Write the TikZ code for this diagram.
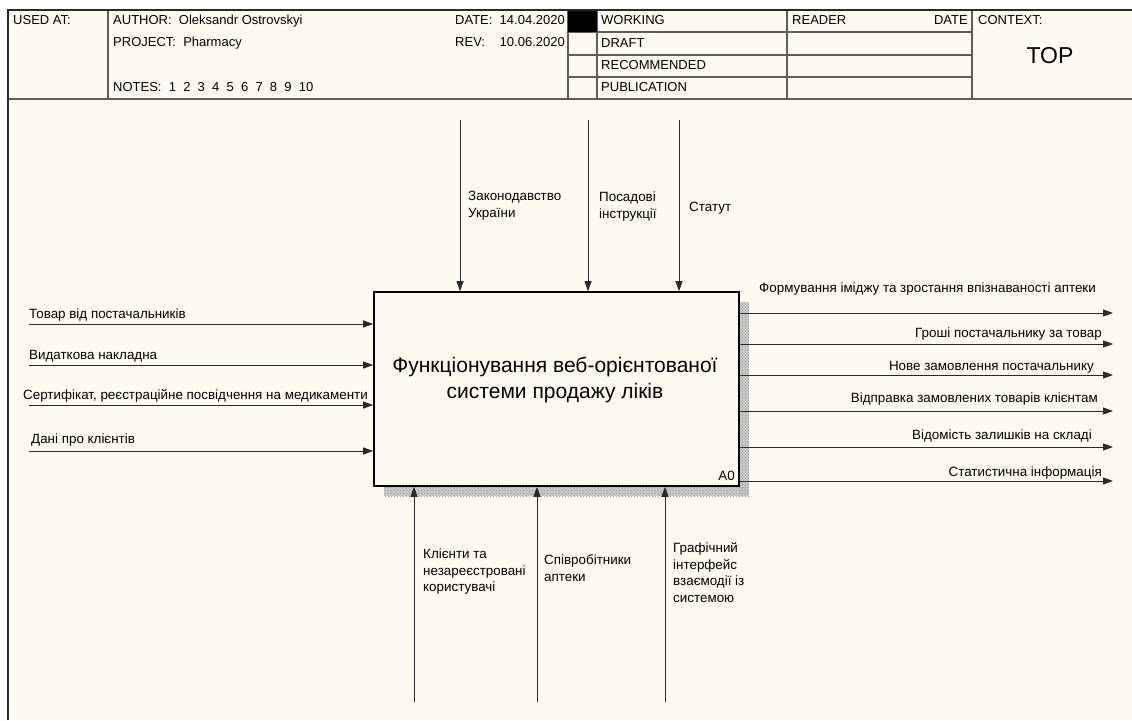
\documentclass[tikz,border=0pt]{standalone}
\usepackage{fontspec}
\setmainfont{Liberation Sans}
\usetikzlibrary{arrows.meta,patterns}
\definecolor{paper}{HTML}{FFFAF0}
\definecolor{ink}{HTML}{2A2A2A}
\definecolor{rulegray}{HTML}{5E5E5E}
\tikzset{
  lbl/.style={font=\fontsize{13.4}{16.5}\selectfont, inner sep=0pt, align=left, anchor=base west},
  lble/.style={lbl, anchor=base east},
  hdr/.style={font=\fontsize{13}{15}\selectfont, inner sep=0pt, anchor=base west},
  flow/.style={draw=ink, line width=0.9pt, -{Triangle[length=10pt,width=7pt]}},
  actbox/.style={draw=black, line width=1.6pt, fill=paper, minimum width=365pt, minimum height=194pt, inner sep=0pt},
  shadebase/.style={fill=gray!40},
  shade/.style={pattern=crosshatch dots, pattern color=gray!90},
}
\begin{document}
\begin{tikzpicture}[x=1pt,y=-1pt]
\useasboundingbox (0,0) rectangle (1132,720);
\fill[white] (0,0) rectangle (1132,720);
\fill[paper] (8,10) rectangle (1132,720);

% ---- title block ----
\draw[rulegray, line width=1.3pt] (8,99) -- (1132,99);
\draw[rulegray, line width=1.3pt]
  (108,10) -- (108,99) (568,10) -- (568,99) (597,10) -- (597,99)
  (787,10) -- (787,99) (972,10) -- (972,99);
\draw[rulegray, line width=1.3pt]
  (568,32) -- (972,32) (568,55) -- (972,55) (568,77) -- (972,77);
\fill[black] (568,10) rectangle (597,32);
\draw[ink, line width=2pt] (8,720) -- (8,10) -- (1132,10);

\node[hdr] (usedat) at (13,24.5) {USED AT:};
\node[hdr] (author) at (113,24.5) {AUTHOR:\ \ Oleksandr Ostrovskyi};
\node[hdr] (project) at (113,46.5) {PROJECT:\ \ Pharmacy};
\node[hdr] (notes) at (113,91.5) {NOTES:\ \ 1\ \ 2\ \ 3\ \ 4\ \ 5\ \ 6\ \ 7\ \ 8\ \ 9\ \ 10};
\node[hdr] (datekey) at (455,24.5) {DATE:};
\node[hdr, anchor=base east] (dateval) at (565,24.5) {14.04.2020};
\node[hdr] (revkey) at (455,46.5) {REV:};
\node[hdr, anchor=base east] (revval) at (565,46.5) {10.06.2020};
\node[hdr] (working) at (601,24.5) {WORKING};
\node[hdr] (draft) at (601,47.5) {DRAFT};
\node[hdr] (recommended) at (601,69.5) {RECOMMENDED};
\node[hdr] (publication) at (601,91.5) {PUBLICATION};
\node[hdr] (reader) at (792,24.5) {READER};
\node[hdr, anchor=base east] (readerdate) at (968,24.5) {DATE};
\node[hdr] (context) at (978,24.5) {CONTEXT:};
\node[font=\fontsize{23}{26}\selectfont, inner sep=0pt, anchor=base] (top) at (1050,63) {TOP};

% ---- activity box with its shadow ----
\fill[shadebase] (384,486) rectangle (749,496);
\fill[shadebase] (739,302) rectangle (749,496);
\fill[shade] (384,486) rectangle (749,496);
\fill[shade] (739,302) rectangle (749,496);
\node[actbox] (A0) at (556.5,389) {};
\node[font=\fontsize{21}{26}\selectfont, inner sep=0pt, align=center] (A0title) at (555,380)
  {Функціонування веб-орієнтованої\\системи продажу ліків};
\node[lble] (A0num) at (735,480) {A0};

% ---- inputs ----
\coordinate (in1) at (29,324);
\coordinate (in2) at (29,365);
\coordinate (in3) at (29,405);
\coordinate (in4) at (29,451);
\foreach \c in {in1,in2,in3,in4} \draw[flow] (\c) -- (\c -| A0.west);
\node[lbl] (in1t) at (29,318.5) {Товар від постачальників};
\node[lbl] (in2t) at (29,359.5) {Видаткова накладна};
\node[lbl] (in3t) at (23,399.5) {Сертифікат, реєстраційне посвідчення на медикаменти};
\node[lbl] (in4t) at (31,443.5) {Дані про клієнтів};

% ---- controls (label base = last line) ----
\coordinate (ct1) at (460,120);
\coordinate (ct2) at (588,120);
\coordinate (ct3) at (679,120);
\foreach \c in {ct1,ct2,ct3} \draw[flow] (\c) -- (\c |- A0.north);
\node[lbl] (ct1t) at (468,217) {Законодавство\\України};
\node[lbl] (ct2t) at (599,218) {Посадові\\інструкції};
\node[lbl] (ct3t) at (689,211.5) {Статут};

% ---- mechanisms ----
\coordinate (mc1) at (414,702);
\coordinate (mc2) at (537,702);
\coordinate (mc3) at (665,702);
\foreach \c in {mc1,mc2,mc3} \draw[flow] (\c) -- (\c |- A0.south);
\node[lbl] (mc1t) at (423,591.5) {Клієнти та\\незареєстровані\\користувачі};
\node[lbl] (mc2t) at (544,581) {Співробітники\\аптеки};
\node[lbl] (mc3t) at (673,602) {Графічний\\інтерфейс\\взаємодії із\\системою};

% ---- outputs ----
\coordinate (out1) at (1113,313);
\coordinate (out2) at (1113,344);
\coordinate (out3) at (1113,375);
\coordinate (out4) at (1113,411);
\coordinate (out5) at (1113,447);
\coordinate (out6) at (1113,481);
\foreach \c in {out1,out2,out3,out4,out5,out6} \draw[flow] (\c -| A0.east) -- (\c);
\node[lbl] (out1t) at (759,292.5) {Формування іміджу та зростання впізнаваності аптеки};
\node[lble] (out2t) at (1102,337.5) {Гроші постачальнику за товар};
\node[lble] (out3t) at (1094,370.5) {Нове замовлення постачальнику};
\node[lble] (out4t) at (1098,402.5) {Відправка замовлених товарів клієнтам};
\node[lble] (out5t) at (1092,439.5) {Відомість залишків на складі};
\node[lble] (out6t) at (1102,476.5) {Статистична інформація};
\end{tikzpicture}
\end{document}
